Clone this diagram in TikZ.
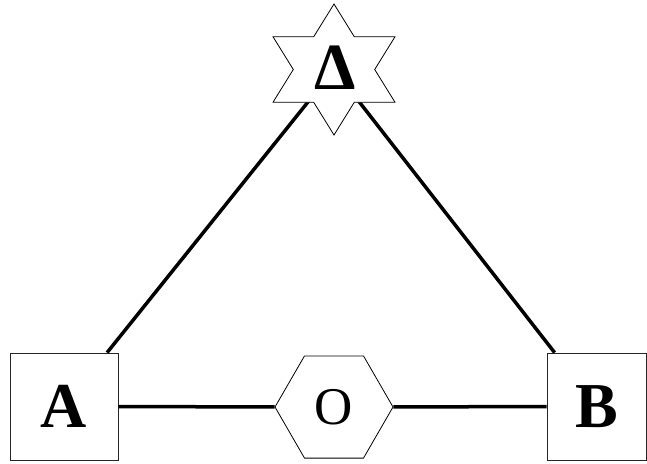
\documentclass[tikz,border=0pt]{standalone}
\usepackage{fontspec}
\setmainfont{LiberationSerif}[Extension=.ttf,UprightFont=*-Regular,BoldFont=*-Bold]
\usetikzlibrary{shapes.geometric}
\begin{document}
\begin{tikzpicture}[x=1pt,y=-1pt,
  boxnode/.style={draw=black!85,line width=0.8pt,rectangle,inner sep=0pt,
    minimum height=107pt,font=\fontsize{64}{64}\selectfont\bfseries},
  hexnode/.style={draw,line width=0.8pt,regular polygon,regular polygon sides=6,
    inner sep=0pt,minimum size=118pt,font=\fontsize{53}{53}\selectfont},
  starline/.style={draw,fill=white,line width=0.8pt,line join=miter},
  starlabel/.style={inner sep=0pt,font=\fontsize{66}{66}\selectfont\bfseries},
  link/.style={line width=3.5pt}]
\useasboundingbox (0,0) rectangle (647,463);
\node[boxnode,minimum width=108pt] (A) at (64,406.5) {A};
\node[boxnode,minimum width=99pt] (B) at (596.5,406.5) {B};
\node[hexnode] (O) at (334,407) {O};
\coordinate (D) at (334,69.5);
\draw[link] (A) -- (O);
\draw[link] (O) -- (B);
\draw[link] (A) -- (D);
\draw[link] (D) -- (B);
\path[starline,shift={(D)}] (0,-65.5) -- (-20.3,-32.75) -- (-61,-32.75) -- (-40.7,0)
  -- (-61,32.75) -- (-20.3,32.75) -- (0,65.5) -- (20.3,32.75) -- (61,32.75)
  -- (40.7,0) -- (61,-32.75) -- (20.3,-32.75) -- cycle;
\node[starlabel] (Dl) at (335,68) {Δ};
\end{tikzpicture}
\end{document}
